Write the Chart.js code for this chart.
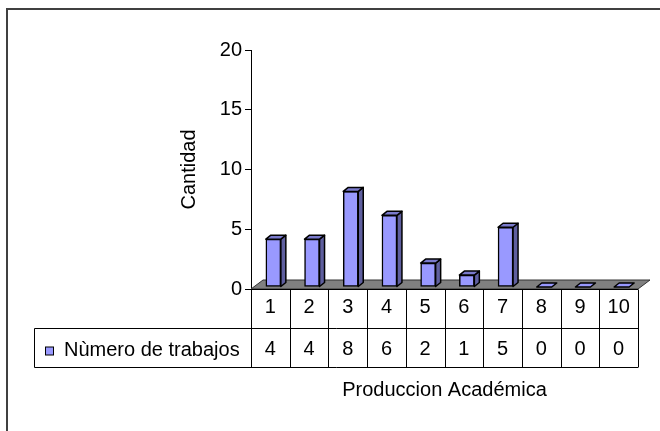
<!DOCTYPE html>
<html>
<head>
<meta charset="utf-8">
<script src="https://cdn.jsdelivr.net/npm/chart.js@4.4.1/dist/chart.umd.min.js"></script>
<style>
  html, body { margin: 0; padding: 0; background: #fff; }
</style>
</head>
<body>
<canvas id="prodChart" width="660" height="431"></canvas>
<script>
// Values
const categories = ['1', '2', '3', '4', '5', '6', '7', '8', '9', '10'];
const trabajos = [4, 4, 8, 6, 2, 1, 5, 0, 0, 0];
const yTickValues = [0, 5, 10, 15, 20];
const seriesName = 'Nùmero de trabajos';
const xTitle = 'Produccion Académica';
const yTitle = 'Cantidad';

const FONT = "'Liberation Sans', Arial, sans-serif";
const FSIZE = 20;
const FRONT = '#9999FF';
const SIDE = '#5F5F9F';
const TOP = '#7A7ACC';
const DX = 5, DY = -4;          // bar depth
const SHIFT_X = 3, SHIFT_Y = -2; // bars sit a little back on the floor
const ROW_H = 39;

// Excel-like 3D faces, floor and data table
const excelLook = {
    id: 'excelLook',
    beforeDraw(chart) {
        const ctx = chart.ctx;
        ctx.save();
        ctx.fillStyle = '#fff';
        ctx.fillRect(0, 0, chart.width, chart.height);
        ctx.fillStyle = '#404040';
        ctx.fillRect(6, 8, chart.width - 6, 2);
        ctx.fillRect(6, 8, 2, chart.height - 8);
        ctx.restore();
    },
    beforeDatasetsDraw(chart) {
        const ctx = chart.ctx;
        const area = chart.chartArea;
        const y0 = chart.scales.y.getPixelForValue(0);
        // floor
        ctx.save();
        ctx.beginPath();
        ctx.moveTo(area.left, y0);
        ctx.lineTo(area.right, y0);
        ctx.lineTo(area.right + 12, y0 - 9);
        ctx.lineTo(area.left + 12, y0 - 9);
        ctx.closePath();
        ctx.fillStyle = '#808080';
        ctx.fill();
        ctx.strokeStyle = '#333';
        ctx.lineWidth = 1;
        ctx.stroke();
        ctx.restore();
        ctx.save();
        ctx.translate(SHIFT_X, SHIFT_Y);
    },
    afterDatasetsDraw(chart) {
        const ctx = chart.ctx;
        const meta = chart.getDatasetMeta(0);
        ctx.lineWidth = 1.5;
        ctx.lineJoin = 'round';
        ctx.strokeStyle = '#000';
        meta.data.forEach(bar => {
            const w = bar.width;
            const l = bar.x - w / 2, r = bar.x + w / 2;
            const t = bar.y, b = bar.base;
            // side
            if (b - t > 0.5) {
                ctx.beginPath();
                ctx.moveTo(r, t);
                ctx.lineTo(r + DX, t + DY);
                ctx.lineTo(r + DX, b + DY);
                ctx.lineTo(r, b);
                ctx.closePath();
                ctx.fillStyle = SIDE;
                ctx.fill();
                ctx.stroke();
            }
            // top
            ctx.beginPath();
            ctx.moveTo(l, t);
            ctx.lineTo(l + DX, t + DY);
            ctx.lineTo(r + DX, t + DY);
            ctx.lineTo(r, t);
            ctx.closePath();
            ctx.fillStyle = b - t > 0.5 ? TOP : FRONT;
            ctx.fill();
            ctx.stroke();
        });
        ctx.restore();
    },
    afterDraw(chart) {
        const ctx = chart.ctx;
        const area = chart.chartArea;
        const xs = chart.scales.x;
        const y0 = Math.round(chart.scales.y.getPixelForValue(0)) + 0.5;
        const colW = (area.right - area.left) / categories.length;
        const legendLeft = 34.5;
        ctx.save();
        ctx.strokeStyle = '#000';
        ctx.lineWidth = 1;
        ctx.beginPath();
        // horizontal rules
        ctx.moveTo(area.left, y0); ctx.lineTo(area.right, y0);
        ctx.moveTo(legendLeft, y0 + ROW_H); ctx.lineTo(area.right, y0 + ROW_H);
        ctx.moveTo(legendLeft, y0 + 2 * ROW_H); ctx.lineTo(area.right, y0 + 2 * ROW_H);
        // vertical rules
        for (let i = 0; i <= categories.length; i++) {
            const x = Math.round(area.left + i * colW) + 0.5;
            ctx.moveTo(x, y0); ctx.lineTo(x, y0 + 2 * ROW_H);
        }
        ctx.moveTo(legendLeft, y0 + ROW_H); ctx.lineTo(legendLeft, y0 + 2 * ROW_H);
        ctx.stroke();

        // values row
        ctx.fillStyle = '#000';
        ctx.font = FSIZE + 'px ' + FONT;
        ctx.textAlign = 'center';
        ctx.textBaseline = 'middle';
        trabajos.forEach((v, i) => {
            ctx.fillText(String(v), xs.getPixelForValue(i), y0 + ROW_H * 1.5 + 1);
        });

        // legend key + series name
        const baseY = y0 + ROW_H + 27;
        ctx.fillStyle = FRONT;
        ctx.fillRect(45.5, baseY - 8.5, 8, 8);
        ctx.strokeRect(45.5, baseY - 8.5, 8, 8);
        ctx.fillStyle = '#000';
        ctx.textAlign = 'left';
        ctx.textBaseline = 'alphabetic';
        ctx.fillText(seriesName, 64, baseY);
        ctx.restore();
    }
};

const ctx = document.getElementById('prodChart').getContext('2d');

const prodChart = new Chart(ctx, {
    type: 'bar',
    data: {
        labels: categories,
        datasets: [{
            label: seriesName,
            data: trabajos,
            backgroundColor: FRONT,
            borderColor: '#000',
            borderWidth: 1.5,
            borderSkipped: false,
            barThickness: 15
        }]
    },
    options: {
        responsive: false,
        animation: false,
        layout: { padding: { left: 0, right: 22, top: 50, bottom: 0 } },
        plugins: {
            legend: { display: false },
            tooltip: { enabled: false }
        },
        scales: {
            x: {
                offset: true,
                grid: { display: false, drawTicks: false },
                border: { display: false },
                ticks: {
                    color: '#000',
                    font: { family: FONT, size: FSIZE },
                    padding: 6,
                    maxRotation: 0
                },
                title: {
                    display: true,
                    text: xTitle,
                    color: '#000',
                    font: { family: FONT, size: FSIZE },
                    padding: { top: 0, bottom: 29 }
                },
                afterFit: s => { s.height = 142; }
            },
            y: {
                min: 0,
                max: 20,
                afterBuildTicks: s => { s.ticks = yTickValues.map(v => ({ value: v })); },
                grid: { drawOnChartArea: false, tickLength: 6, color: '#000' },
                border: { color: '#000' },
                ticks: {
                    color: '#000',
                    font: { family: FONT, size: FSIZE },
                    padding: 3
                },
                title: {
                    display: true,
                    text: yTitle,
                    color: '#000',
                    font: { family: FONT, size: FSIZE },
                    padding: { top: 177, bottom: 0 }
                },
                afterFit: s => { s.width = 251; }
            }
        }
    },
    plugins: [excelLook]
});
</script>
</body>
</html>
